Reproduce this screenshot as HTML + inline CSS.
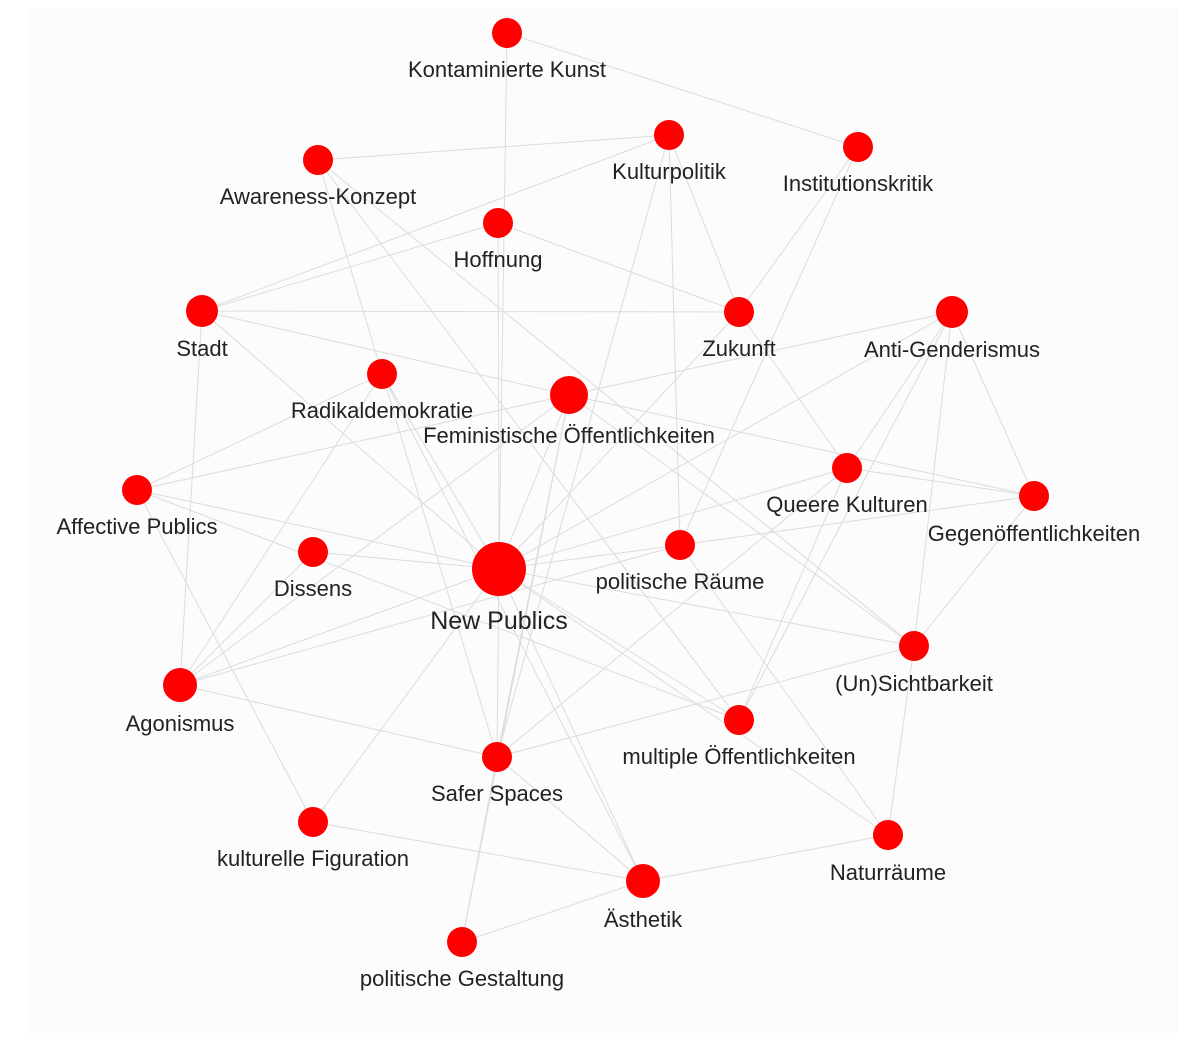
<!DOCTYPE html>
<html><head><meta charset="utf-8"><style>
html,body{margin:0;padding:0;background:#fff;}
svg{display:block;}
text{font-family:"Liberation Sans",sans-serif;font-size:22px;fill:#222;text-anchor:middle;}
</style></head><body>
<svg width="1203" height="1040" viewBox="0 0 1203 1040">
<rect x="0" y="0" width="1203" height="1040" fill="#fff"/>
<rect x="28" y="8" width="1150" height="1025" fill="#fcfcfc"/>
<g stroke="#dcdcdc" stroke-width="1" fill="none">
<line x1="507" y1="33" x2="858" y2="147"/>
<line x1="507" y1="33" x2="499" y2="569"/>
<line x1="318" y1="160" x2="669" y2="135"/>
<line x1="318" y1="160" x2="914" y2="646"/>
<line x1="318" y1="160" x2="739" y2="720"/>
<line x1="318" y1="160" x2="497" y2="757"/>
<line x1="669" y1="135" x2="202" y2="311"/>
<line x1="669" y1="135" x2="739" y2="312"/>
<line x1="669" y1="135" x2="680" y2="545"/>
<line x1="669" y1="135" x2="497" y2="757"/>
<line x1="858" y1="147" x2="739" y2="312"/>
<line x1="858" y1="147" x2="680" y2="545"/>
<line x1="498" y1="223" x2="202" y2="311"/>
<line x1="498" y1="223" x2="739" y2="312"/>
<line x1="498" y1="223" x2="499" y2="569"/>
<line x1="202" y1="311" x2="739" y2="312"/>
<line x1="202" y1="311" x2="180" y2="685"/>
<line x1="202" y1="311" x2="569" y2="395"/>
<line x1="202" y1="311" x2="499" y2="569"/>
<line x1="739" y1="312" x2="847" y2="468"/>
<line x1="739" y1="312" x2="499" y2="569"/>
<line x1="952" y1="312" x2="1034" y2="496"/>
<line x1="952" y1="312" x2="847" y2="468"/>
<line x1="952" y1="312" x2="914" y2="646"/>
<line x1="952" y1="312" x2="499" y2="569"/>
<line x1="952" y1="312" x2="739" y2="720"/>
<line x1="952" y1="312" x2="569" y2="395"/>
<line x1="382" y1="374" x2="180" y2="685"/>
<line x1="382" y1="374" x2="137" y2="490"/>
<line x1="382" y1="374" x2="643" y2="881"/>
<line x1="382" y1="374" x2="499" y2="569"/>
<line x1="569" y1="395" x2="499" y2="569"/>
<line x1="569" y1="395" x2="497" y2="757"/>
<line x1="569" y1="395" x2="1034" y2="496"/>
<line x1="569" y1="395" x2="914" y2="646"/>
<line x1="569" y1="395" x2="137" y2="490"/>
<line x1="569" y1="395" x2="180" y2="685"/>
<line x1="569" y1="395" x2="462" y2="942"/>
<line x1="847" y1="468" x2="1034" y2="496"/>
<line x1="847" y1="468" x2="739" y2="720"/>
<line x1="847" y1="468" x2="499" y2="569"/>
<line x1="847" y1="468" x2="497" y2="757"/>
<line x1="1034" y1="496" x2="680" y2="545"/>
<line x1="1034" y1="496" x2="914" y2="646"/>
<line x1="137" y1="490" x2="499" y2="569"/>
<line x1="137" y1="490" x2="313" y2="822"/>
<line x1="137" y1="490" x2="739" y2="720"/>
<line x1="313" y1="552" x2="499" y2="569"/>
<line x1="313" y1="552" x2="180" y2="685"/>
<line x1="680" y1="545" x2="499" y2="569"/>
<line x1="680" y1="545" x2="888" y2="835"/>
<line x1="680" y1="545" x2="180" y2="685"/>
<line x1="499" y1="569" x2="914" y2="646"/>
<line x1="499" y1="569" x2="739" y2="720"/>
<line x1="499" y1="569" x2="497" y2="757"/>
<line x1="499" y1="569" x2="643" y2="881"/>
<line x1="499" y1="569" x2="313" y2="822"/>
<line x1="499" y1="569" x2="180" y2="685"/>
<line x1="499" y1="569" x2="888" y2="835"/>
<line x1="180" y1="685" x2="497" y2="757"/>
<line x1="914" y1="646" x2="888" y2="835"/>
<line x1="914" y1="646" x2="497" y2="757"/>
<line x1="313" y1="822" x2="643" y2="881"/>
<line x1="643" y1="881" x2="888" y2="835"/>
<line x1="643" y1="881" x2="462" y2="942"/>
<line x1="497" y1="757" x2="462" y2="942"/>
<line x1="497" y1="757" x2="643" y2="881"/>
</g>
<g fill="#ff0000">
<circle cx="507" cy="33" r="15"/>
<circle cx="669" cy="135" r="15"/>
<circle cx="858" cy="147" r="15"/>
<circle cx="318" cy="160" r="15"/>
<circle cx="498" cy="223" r="15"/>
<circle cx="202" cy="311" r="16"/>
<circle cx="739" cy="312" r="15"/>
<circle cx="952" cy="312" r="16"/>
<circle cx="382" cy="374" r="15"/>
<circle cx="569" cy="395" r="19"/>
<circle cx="847" cy="468" r="15"/>
<circle cx="1034" cy="496" r="15"/>
<circle cx="137" cy="490" r="15"/>
<circle cx="313" cy="552" r="15"/>
<circle cx="680" cy="545" r="15"/>
<circle cx="499" cy="569" r="27"/>
<circle cx="914" cy="646" r="15"/>
<circle cx="180" cy="685" r="17"/>
<circle cx="739" cy="720" r="15"/>
<circle cx="497" cy="757" r="15"/>
<circle cx="313" cy="822" r="15"/>
<circle cx="888" cy="835" r="15"/>
<circle cx="643" cy="881" r="17"/>
<circle cx="462" cy="942" r="15"/>
</g>
<g>
<text x="507" y="77">Kontaminierte Kunst</text>
<text x="669" y="179">Kulturpolitik</text>
<text x="858" y="191">Institutionskritik</text>
<text x="318" y="204">Awareness-Konzept</text>
<text x="498" y="267">Hoffnung</text>
<text x="202" y="356">Stadt</text>
<text x="739" y="356">Zukunft</text>
<text x="952" y="357">Anti-Genderismus</text>
<text x="382" y="418">Radikaldemokratie</text>
<text x="569" y="443">Feministische Öffentlichkeiten</text>
<text x="847" y="512">Queere Kulturen</text>
<text x="1034" y="541">Gegenöffentlichkeiten</text>
<text x="137" y="534">Affective Publics</text>
<text x="313" y="596">Dissens</text>
<text x="680" y="589">politische Räume</text>
<text x="499" y="629" style="font-size:25px">New Publics</text>
<text x="914" y="691">(Un)Sichtbarkeit</text>
<text x="180" y="731">Agonismus</text>
<text x="739" y="764">multiple Öffentlichkeiten</text>
<text x="497" y="801">Safer Spaces</text>
<text x="313" y="866">kulturelle Figuration</text>
<text x="888" y="880">Naturräume</text>
<text x="643" y="927">Ästhetik</text>
<text x="462" y="986">politische Gestaltung</text>
</g>
</svg>
</body></html>
